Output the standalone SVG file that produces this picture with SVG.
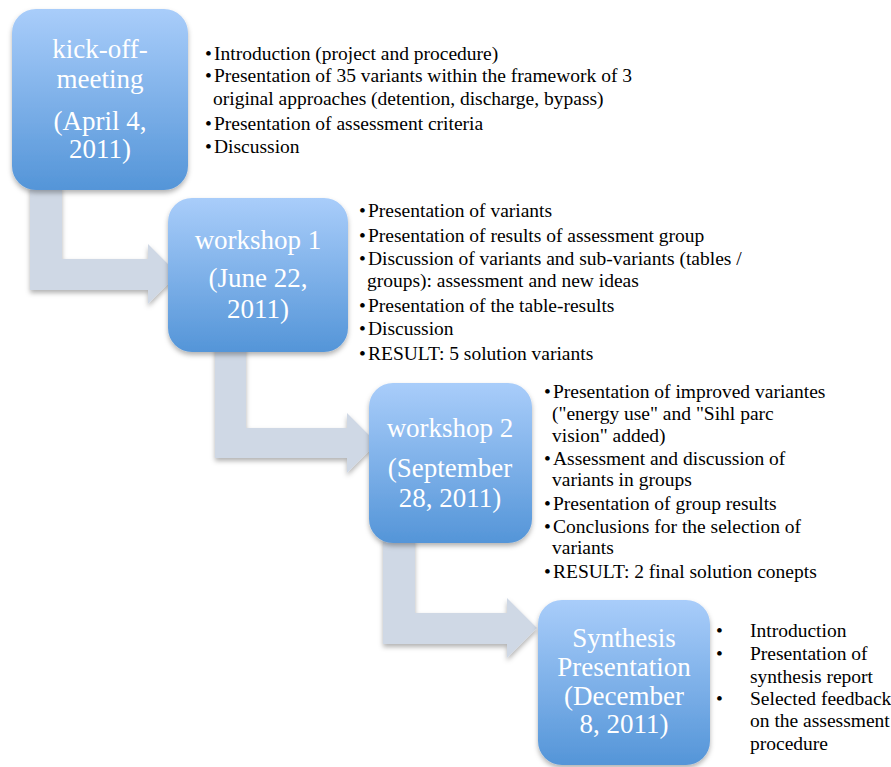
<svg xmlns="http://www.w3.org/2000/svg" width="891" height="767" viewBox="0 0 891 767">
<defs>
<linearGradient id="g" x1="0" y1="0" x2="0" y2="1">
<stop offset="0" stop-color="#a9cdfa"/>
<stop offset="1" stop-color="#5495d8"/>
</linearGradient>
<filter id="sh" x="-20%" y="-20%" width="140%" height="140%">
<feDropShadow dx="0" dy="3" stdDeviation="2.5" flood-color="#000" flood-opacity="0.3"/>
</filter>
</defs>
<style>
.box{fill:url(#g);filter:url(#sh)}
.arr{fill:#cfd8e5;filter:url(#sh)}
text{font-family:'Liberation Serif','Times New Roman',serif}
.bt{font-size:27px;fill:#fff;text-anchor:middle}
.t{font-size:19.5px;fill:#000}
</style>
<rect width="891" height="767" fill="#fff"/>
<g id="connectors">
<path class="arr" d="M30,185 L62,185 L62,259 L148,259 L148,244 L178,274 L148,304 L148,290 L30,290 Z"/>
<path class="arr" d="M215,345 L246,345 L246,428 L347,428 L347,413 L377,443 L347,473 L347,458 L215,458 Z"/>
<path class="arr" d="M383,538 L415,538 L415,613 L507,613 L507,598 L537,628 L507,658 L507,644 L383,644 Z"/>
</g>
<g id="kickoff">
<rect class="box" x="12" y="9" width="176" height="181" rx="24"/>
<text class="bt" x="100" y="58">kick-off-</text>
<text class="bt" x="100" y="88">meeting</text>
<text class="bt" x="100" y="130">(April 4,</text>
<text class="bt" x="100" y="158">2011)</text>
</g>
<g id="kickoff-notes" class="t">
<text x="205" y="60">•</text><text x="214" y="60">Introduction (project and procedure)</text>
<text x="205" y="82">•</text><text x="214" y="82">Presentation of 35 variants within the framework of 3</text>
<text x="213" y="105">original approaches (detention, discharge, bypass)</text>
<text x="205" y="130">•</text><text x="214" y="130">Presentation of assessment criteria</text>
<text x="205" y="153">•</text><text x="214" y="153">Discussion</text>
</g>
<g id="workshop1">
<rect class="box" x="168" y="198" width="180" height="154" rx="24"/>
<text class="bt" x="258" y="249">workshop 1</text>
<text class="bt" x="258" y="287">(June 22,</text>
<text class="bt" x="258" y="318">2011)</text>
</g>
<g id="workshop1-notes" class="t">
<text x="359" y="217">•</text><text x="368" y="217">Presentation of variants</text>
<text x="359" y="242">•</text><text x="368" y="242">Presentation of results of assessment group</text>
<text x="359" y="265">•</text><text x="368" y="265">Discussion of variants and sub-variants (tables /</text>
<text x="367" y="287">groups): assessment and new ideas</text>
<text x="359" y="312">•</text><text x="368" y="312">Presentation of the table-results</text>
<text x="359" y="335">•</text><text x="368" y="335">Discussion</text>
<text x="359" y="360">•</text><text x="368" y="360">RESULT: 5 solution variants</text>
</g>
<g id="workshop2">
<rect class="box" x="369" y="383" width="163" height="160" rx="24"/>
<text class="bt" x="450" y="437">workshop 2</text>
<text class="bt" x="450" y="477">(September</text>
<text class="bt" x="450" y="507">28, 2011)</text>
</g>
<g id="workshop2-notes" class="t">
<text x="544" y="398">•</text><text x="553" y="398">Presentation of improved variantes</text>
<text x="552" y="420">("energy use" and "Sihl parc</text>
<text x="552" y="442">vision" added)</text>
<text x="544" y="465">•</text><text x="553" y="465">Assessment and discussion of</text>
<text x="552" y="486">variants in groups</text>
<text x="544" y="510">•</text><text x="553" y="510">Presentation of group results</text>
<text x="544" y="533">•</text><text x="553" y="533">Conclusions for the selection of</text>
<text x="552" y="554">variants</text>
<text x="544" y="578">•</text><text x="553" y="578">RESULT: 2 final solution conepts</text>
</g>
<g id="synthesis">
<rect class="box" x="538" y="600" width="172" height="165" rx="24"/>
<text class="bt" x="624" y="647">Synthesis</text>
<text class="bt" x="624" y="676">Presentation</text>
<text class="bt" x="624" y="705">(December</text>
<text class="bt" x="624" y="733">8, 2011)</text>
</g>
<g id="synthesis-notes" class="t">
<text x="716" y="637">•</text><text x="750" y="637">Introduction</text>
<text x="716" y="660">•</text><text x="750" y="660">Presentation of</text>
<text x="750" y="683">synthesis report</text>
<text x="716" y="705">•</text><text x="750" y="705">Selected feedback</text>
<text x="750" y="727">on the assessment</text>
<text x="750" y="750">procedure</text>
</g>
</svg>
